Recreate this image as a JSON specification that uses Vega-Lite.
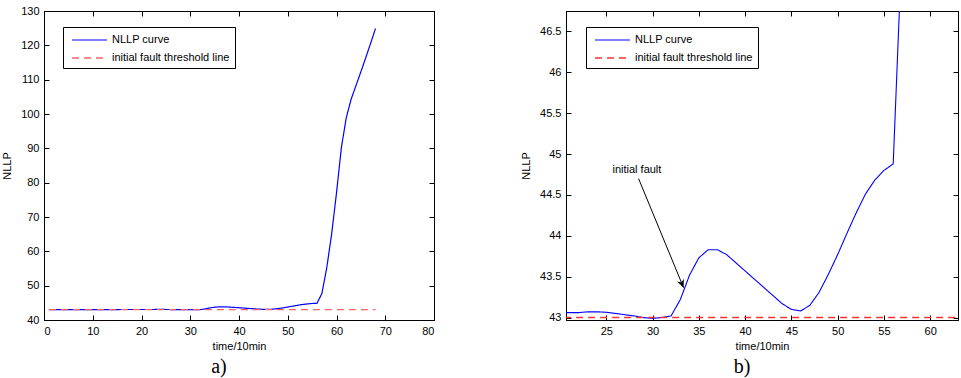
{
  "$schema": "https://vega.github.io/schema/vega-lite/v6.json",
  "padding": {"left": 1, "top": 4, "right": 0, "bottom": 0},
  "background": "white",
  "datasets": {
    "curve": [
      {"t": 1, "v": 43.05, "series": "NLLP curve"},
      {"t": 5, "v": 43.05, "series": "NLLP curve"},
      {"t": 10, "v": 43.05, "series": "NLLP curve"},
      {"t": 15, "v": 43.05, "series": "NLLP curve"},
      {"t": 20, "v": 43.06, "series": "NLLP curve"},
      {"t": 21, "v": 43.06, "series": "NLLP curve"},
      {"t": 22, "v": 43.06, "series": "NLLP curve"},
      {"t": 23, "v": 43.07, "series": "NLLP curve"},
      {"t": 24, "v": 43.07, "series": "NLLP curve"},
      {"t": 25, "v": 43.065, "series": "NLLP curve"},
      {"t": 26, "v": 43.05, "series": "NLLP curve"},
      {"t": 27, "v": 43.035, "series": "NLLP curve"},
      {"t": 28, "v": 43.02, "series": "NLLP curve"},
      {"t": 29, "v": 43.0, "series": "NLLP curve"},
      {"t": 30, "v": 42.99, "series": "NLLP curve"},
      {"t": 31, "v": 43.0, "series": "NLLP curve"},
      {"t": 32, "v": 43.02, "series": "NLLP curve"},
      {"t": 33, "v": 43.22, "series": "NLLP curve"},
      {"t": 34, "v": 43.52, "series": "NLLP curve"},
      {"t": 35, "v": 43.73, "series": "NLLP curve"},
      {"t": 36, "v": 43.83, "series": "NLLP curve"},
      {"t": 37, "v": 43.83, "series": "NLLP curve"},
      {"t": 38, "v": 43.77, "series": "NLLP curve"},
      {"t": 39, "v": 43.67, "series": "NLLP curve"},
      {"t": 40, "v": 43.57, "series": "NLLP curve"},
      {"t": 41, "v": 43.47, "series": "NLLP curve"},
      {"t": 42, "v": 43.37, "series": "NLLP curve"},
      {"t": 43, "v": 43.27, "series": "NLLP curve"},
      {"t": 44, "v": 43.17, "series": "NLLP curve"},
      {"t": 45, "v": 43.1, "series": "NLLP curve"},
      {"t": 46, "v": 43.08, "series": "NLLP curve"},
      {"t": 47, "v": 43.15, "series": "NLLP curve"},
      {"t": 48, "v": 43.31, "series": "NLLP curve"},
      {"t": 49, "v": 43.53, "series": "NLLP curve"},
      {"t": 50, "v": 43.77, "series": "NLLP curve"},
      {"t": 51, "v": 44.03, "series": "NLLP curve"},
      {"t": 52, "v": 44.28, "series": "NLLP curve"},
      {"t": 53, "v": 44.51, "series": "NLLP curve"},
      {"t": 54, "v": 44.68, "series": "NLLP curve"},
      {"t": 55, "v": 44.8, "series": "NLLP curve"},
      {"t": 56, "v": 44.88, "series": "NLLP curve"},
      {"t": 57, "v": 47.7, "series": "NLLP curve"},
      {"t": 58, "v": 55.2, "series": "NLLP curve"},
      {"t": 59, "v": 65, "series": "NLLP curve"},
      {"t": 60, "v": 77, "series": "NLLP curve"},
      {"t": 61, "v": 90.2, "series": "NLLP curve"},
      {"t": 62, "v": 98.9, "series": "NLLP curve"},
      {"t": 63, "v": 104.3, "series": "NLLP curve"},
      {"t": 64, "v": 108.3, "series": "NLLP curve"},
      {"t": 65, "v": 112.3, "series": "NLLP curve"},
      {"t": 66, "v": 116.4, "series": "NLLP curve"},
      {"t": 67, "v": 120.6, "series": "NLLP curve"},
      {"t": 68, "v": 124.9, "series": "NLLP curve"},
      {"t": 1, "v": 43.0, "series": "initial fault threshold line"},
      {"t": 68, "v": 43.0, "series": "initial fault threshold line"}
    ],
    "note": [
      {"tx": 28.31, "ty": 44.8, "label": "initial fault", "x1": 28.49, "y1": 44.7, "x2": 33.35, "y2": 43.366}
    ]
  },
  "config": {
    "view": {"stroke": "black", "strokeWidth": 1},
    "axis": {
      "domainColor": "black", "tickColor": "black", "labelColor": "black", "titleColor": "black",
      "labelFont": "Liberation Sans", "titleFont": "Liberation Sans",
      "labelFontSize": 11, "titleFontSize": 11, "titleFontWeight": "normal",
      "grid": false, "tickSize": -5, "domainWidth": 1, "tickWidth": 1, "labelPadding": 10
    },
    "legend": {
      "labelFont": "Liberation Sans", "labelFontSize": 11, "labelColor": "black",
      "strokeColor": "black", "fillColor": "white", "padding": 5,
      "symbolType": "M-2.5,0H2.5", "symbolSize": 196, "symbolStrokeWidth": 1.3,
      "symbolOffset": 13.5, "labelOffset": 14.5,
      "rowPadding": 5
    },
    "title": {"font": "Liberation Serif", "fontSize": 20, "fontWeight": "normal", "color": "black", "dx": -20}
  },
  "resolve": {
    "scale": {"color": "independent", "strokeDash": "independent", "strokeWidth": "independent"},
    "legend": {"color": "independent", "strokeDash": "independent"}
  },
  "hconcat": [
    {
      "width": 390, "height": 309,
      "title": {"text": "a)", "orient": "bottom", "offset": 6},
      "layer": [
        {
          "data": {"name": "curve"},
          "mark": {"type": "line", "strokeWidth": 1.2},
          "encoding": {
            "x": {"field": "t", "type": "quantitative", "scale": {"domain": [0, 80], "nice": false},
                  "axis": {"title": "time/10min", "values": [0,10,20,30,40,50,60,70,80], "titlePadding": 4}},
            "y": {"field": "v", "type": "quantitative", "scale": {"domain": [40, 130], "nice": false, "zero": false},
                  "axis": {"title": "NLLP", "values": [40,50,60,70,80,90,100,110,120,130], "titlePadding": 8}},
            "color": {"field": "series", "type": "nominal",
                      "scale": {"domain": ["NLLP curve", "initial fault threshold line"], "range": ["#0000ff", "#ff6060"]},
                      "legend": {"title": null, "orient": "none", "legendX": 19, "legendY": 16}},
            "strokeDash": {"field": "series", "type": "nominal",
                      "scale": {"domain": ["NLLP curve", "initial fault threshold line"], "range": [[1, 0], [7, 5]]},
                      "legend": {"title": null, "orient": "none", "legendX": 19, "legendY": 16}},
            "strokeWidth": {"field": "series", "type": "nominal",
                      "scale": {"domain": ["NLLP curve", "initial fault threshold line"], "range": [1.1, 1.6]},
                      "legend": null}
          }
        },
        {
          "data": {"name": "curve"},
          "mark": {"type": "line", "opacity": 0},
          "encoding": {
            "x": {"field": "t", "type": "quantitative", "axis": {"orient": "top", "labels": false, "title": null, "values": [0,10,20,30,40,50,60,70,80]}},
            "y": {"field": "v", "type": "quantitative", "axis": {"orient": "right", "labels": false, "title": null, "values": [40,50,60,70,80,90,100,110,120,130]}}
          }
        }
      ],
      "resolve": {"axis": {"x": "independent", "y": "independent"}}
    },
    {
      "width": 392, "height": 309,
      "title": {"text": "b)", "orient": "bottom", "offset": 6},
      "layer": [
        {
          "data": {"name": "curve"},
          "mark": {"type": "line", "clip": true},
          "encoding": {
            "x": {"field": "t", "type": "quantitative", "scale": {"domain": [20.65, 63], "nice": false, "zero": false},
                  "axis": {"title": "time/10min", "values": [25,30,35,40,45,50,55,60], "titlePadding": 4}},
            "y": {"field": "v", "type": "quantitative", "scale": {"domain": [42.97, 46.75], "nice": false, "zero": false},
                  "axis": {"title": "NLLP", "values": [43,43.5,44,44.5,45,45.5,46,46.5], "format": "~f", "titlePadding": 8}},
            "color": {"field": "series", "type": "nominal",
                      "scale": {"domain": ["NLLP curve", "initial fault threshold line"], "range": ["#0000ff", "#ff3030"]},
                      "legend": {"title": null, "orient": "none", "legendX": 20, "legendY": 16}},
            "strokeDash": {"field": "series", "type": "nominal",
                      "scale": {"domain": ["NLLP curve", "initial fault threshold line"], "range": [[1, 0], [7, 5]]},
                      "legend": {"title": null, "orient": "none", "legendX": 20, "legendY": 16}},
            "strokeWidth": {"field": "series", "type": "nominal",
                      "scale": {"domain": ["NLLP curve", "initial fault threshold line"], "range": [1.1, 1.6]},
                      "legend": null}
          }
        },
        {
          "data": {"name": "curve"},
          "mark": {"type": "line", "opacity": 0, "clip": true},
          "encoding": {
            "x": {"field": "t", "type": "quantitative", "axis": {"orient": "top", "labels": false, "title": null, "values": [25,30,35,40,45,50,55,60]}},
            "y": {"field": "v", "type": "quantitative", "axis": {"orient": "right", "labels": false, "title": null, "values": [43,43.5,44,44.5,45,45.5,46,46.5]}}
          }
        },
        {
          "data": {"name": "note"},
          "mark": {"type": "rule", "color": "black", "strokeWidth": 1},
          "encoding": {
            "x": {"field": "x1", "type": "quantitative", "axis": null},
            "y": {"field": "y1", "type": "quantitative", "axis": null},
            "x2": {"field": "x2"},
            "y2": {"field": "y2"}
          }
        },
        {
          "data": {"name": "note"},
          "mark": {"type": "point", "shape": "M0,0L-0.45,-1L0,-0.7L0.45,-1Z", "filled": true, "color": "black", "size": 260, "angle": -22.4, "opacity": 1},
          "encoding": {
            "x": {"field": "x2", "type": "quantitative", "axis": null},
            "y": {"field": "y2", "type": "quantitative", "axis": null}
          }
        },
        {
          "data": {"name": "note"},
          "mark": {"type": "text", "font": "Liberation Sans", "fontSize": 11, "color": "black", "align": "center", "baseline": "middle"},
          "encoding": {
            "x": {"field": "tx", "type": "quantitative", "axis": null},
            "y": {"field": "ty", "type": "quantitative", "axis": null},
            "text": {"field": "label"}
          }
        }
      ],
      "resolve": {"axis": {"x": "independent", "y": "independent"}}
    }
  ],
  "spacing": 85
}
